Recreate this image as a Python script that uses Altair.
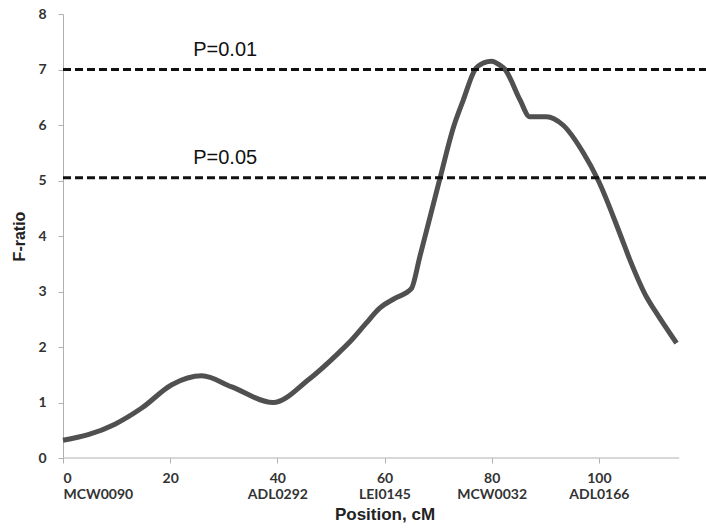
import altair as alt
import pandas as pd

# F-ratio curve
positions = [0, 4.7, 9.7, 14.7, 20.3, 25.9, 31.5, 39.2, 45.8, 51.4, 53.9, 56.5, 59.1, 62,
             65, 66.6, 70.3, 72.9, 74.7, 76.9, 78.5, 80, 81.5, 82.5, 85.3, 87.1, 90.2, 93.3,
             97.1, 99.9, 103.9, 105.8, 108.9, 110.5, 114.5]
f_ratio = [0.32, 0.42, 0.61, 0.9, 1.32, 1.48, 1.28, 1.0, 1.41, 1.89, 2.13, 2.42, 2.7, 2.88,
           3.05, 3.63, 5.02, 5.97, 6.45, 7.0, 7.12, 7.15, 7.08, 7.0, 6.45, 6.15, 6.15, 6.0,
           5.5, 5.0, 4.05, 3.57, 2.9, 2.65, 2.07]

# thresholds
thr_labels = ["P=0.01", "P=0.05"]
thr_values = [7.0, 5.05]

# x ticks and marker names
tick_vals = [0, 20, 40, 60, 80, 100]
marker_names = ["MCW0090", "", "ADL0292", "LEI0145", "MCW0032", "ADL0166"]

X_MAX = 120
AXIS_END = 115
LABEL_X = 24.3

curve = pd.DataFrame({"pos": positions, "f": f_ratio})
thr = pd.DataFrame({"label": thr_labels, "f": thr_values,
                    "x0": [0] * len(thr_values), "x1": [X_MAX] * len(thr_values),
                    "lx": [LABEL_X] * len(thr_values)})
axis_df = pd.DataFrame({"x0": [0], "x1": [AXIS_END], "y": [0]})

label_expr = " : ".join(
    f"datum.value == {v} ? ['{v}', '{n}']" for v, n in zip(tick_vals, marker_names)
) + " : datum.label"

xscale = alt.Scale(domain=[0, X_MAX], nice=False, zero=False)
yscale = alt.Scale(domain=[0, 8], nice=False)

x_axis = alt.Axis(values=tick_vals, labelExpr=label_expr, domain=False, grid=False,
                  tickColor="#b0b0b0", tickSize=5, labelFont="Lato", labelFontWeight="bold",
                  labelFontSize=14, labelColor="#333333", labelLineHeight=16, labelPadding=8,
                  title="Position, cM", titleFont="Liberation Sans", titleFontSize=17,
                  titleFontWeight="bold", titleColor="#222222", titlePadding=5)
y_axis = alt.Axis(values=list(range(0, 9)), format="d", grid=False, domainColor="#b0b0b0",
                  tickColor="#b0b0b0", tickSize=5, labelFont="Lato", labelFontWeight="bold",
                  labelFontSize=14, labelColor="#333333", labelPadding=12,
                  title="F-ratio", titleFont="Liberation Sans", titleFontSize=16,
                  titleFontWeight="bold", titleColor="#222222", titlePadding=10)

line = alt.Chart(curve).mark_line(color="#505050", strokeWidth=5, interpolate="monotone").encode(
    x=alt.X("pos:Q", scale=xscale, axis=x_axis),
    y=alt.Y("f:Q", scale=yscale, axis=y_axis),
)

xline = alt.Chart(axis_df).mark_rule(color="#b0b0b0", strokeWidth=1).encode(
    x=alt.X("x0:Q", scale=xscale), x2="x1:Q", y=alt.Y("y:Q", scale=yscale)
)

dashes = alt.Chart(thr).mark_rule(color="#111111", strokeWidth=3, strokeDash=[8, 4]).encode(
    x=alt.X("x0:Q", scale=xscale), x2="x1:Q", y=alt.Y("f:Q", scale=yscale)
)

texts = alt.Chart(thr).mark_text(align="left", baseline="middle", dy=-20, font="Liberation Sans",
                                 fontSize=20, color="#111111").encode(
    x=alt.X("lx:Q", scale=xscale), y=alt.Y("f:Q", scale=yscale), text="label:N"
)

chart = alt.layer(xline, line, dashes, texts).properties(
    width=643, height=444,
    autosize=alt.AutoSizeParams(type="none"),
    padding={"left": 63, "top": 14, "right": 0, "bottom": 72},
    background="white",
).configure_view(stroke=None)

chart.save("out.html", embed_options={"renderer": "svg", "actions": False})
